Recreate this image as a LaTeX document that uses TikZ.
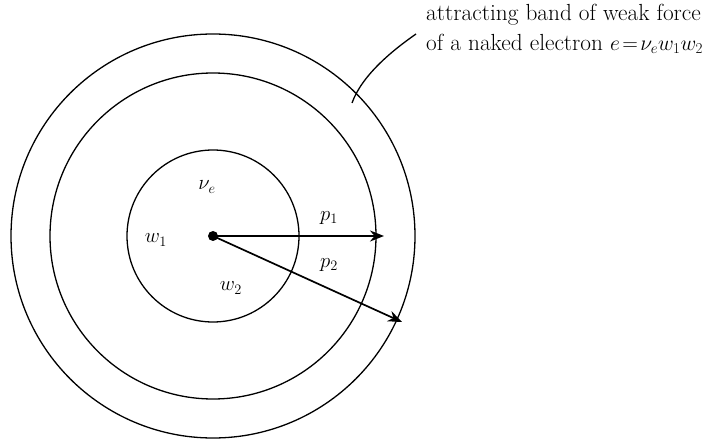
\documentclass[tikz,border=0pt]{standalone}
\usepackage{graphicx}
\usetikzlibrary{arrows.meta}
\begin{document}
\begin{tikzpicture}[x=1pt,y=1pt,
  ring/.style={draw,line width=1.3pt},
  vec/.style={line width=1.7pt,-{Stealth[length=14pt,width=11pt]}},
  lbl/.style={inner sep=0pt,font=\fontsize{19.5}{30}\selectfont},
  note/.style={inner sep=0pt,font=\fontsize{23.3}{30}\selectfont}]
\useasboundingbox (0,0) rectangle (705,440);
\node[circle,fill,inner sep=0pt,minimum size=10pt] (c) at (213,204) {};
\draw[ring] (c.center) circle (86);
\draw[ring] (c.center) circle (163);
\draw[ring] (c.center) circle (202);
\coordinate (t1) at (384,204);
\coordinate (t2) at (402,118);
\draw[vec] (c.center) -- (t1);
\draw[vec] (c.center) -- (t2);
\node[lbl] (nu) at (207,253) {$\nu_e$};
\node[lbl] (w1) at (156,200) {$w_1$};
\node[lbl] (w2) at (231,152) {$w_2$};
\node[lbl] (p1) at (329,222) {$p_1$};
\node[lbl] (p2) at (329,175) {$p_2$};
\node[note,anchor=north west,align=left] (txt) at (426,436)
  {attracting band of weak force\\of a naked electron \scalebox{0.87}{$e\!=\!\nu_e w_1 w_2$}};
\coordinate (a0) at (416,406);
\coordinate (a1) at (352,337);
\draw[line width=1.3pt] (a0) .. controls (393,390) and (362,365) .. (a1);
\end{tikzpicture}
\end{document}
